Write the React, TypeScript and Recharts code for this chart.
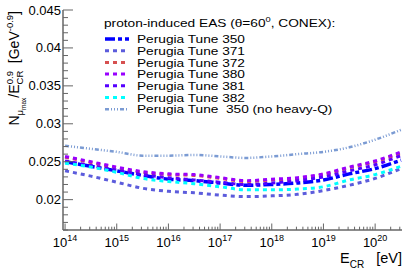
import React from 'react';
import { LineChart, Line, XAxis, YAxis, Legend } from 'recharts';

// log10(E_CR / eV)
const LOG_E = [14, 14.5, 15, 15.5, 16, 16.5, 17, 17.5, 18, 18.5, 19, 19.5, 20, 20.5];

const TUNE_350 = [0.025, 0.0244, 0.0238, 0.0232, 0.0227, 0.0225, 0.0222, 0.0219, 0.022, 0.0222, 0.0226, 0.0234, 0.0241, 0.0252];
const TUNE_371 = [0.0238, 0.0231, 0.0223, 0.0215, 0.0211, 0.0209, 0.0206, 0.0204, 0.0205, 0.0207, 0.0212, 0.0219, 0.0228, 0.0241];
const TUNE_372 = [0.0256, 0.0249, 0.0242, 0.0236, 0.0233, 0.0232, 0.0228, 0.0224, 0.0226, 0.0228, 0.0233, 0.0242, 0.025, 0.0261];
const TUNE_380 = [0.0257, 0.025, 0.0243, 0.0237, 0.0234, 0.0233, 0.0229, 0.0225, 0.0227, 0.0229, 0.0234, 0.0243, 0.0251, 0.0263];
const TUNE_381 = [0.0251, 0.0245, 0.0239, 0.0233, 0.0229, 0.0226, 0.0223, 0.022, 0.0222, 0.0225, 0.023, 0.0238, 0.0246, 0.0258];
const TUNE_382 = [0.0248, 0.0243, 0.0236, 0.0228, 0.0224, 0.0221, 0.0217, 0.0213, 0.0213, 0.0214, 0.0217, 0.0226, 0.0233, 0.0244];
const TUNE_350_NOHQ = [0.0271, 0.0267, 0.0263, 0.0258, 0.0258, 0.0259, 0.0257, 0.0255, 0.0257, 0.026, 0.0263, 0.0269, 0.0279, 0.0292];

const X_MAJOR = [14, 15, 16, 17, 18, 19, 20];
const Y_MAJOR = [0.02, 0.025, 0.03, 0.035, 0.04, 0.045];
const Y_LABELS = ['0.02', '0.025', '0.03', '0.035', '0.04', '0.045'];

const X_DOMAIN = [13.96, 20.52];
const Y_DOMAIN = [0.016, 0.045];

const SERIES = [
  { key: 't350', name: 'Perugia Tune 350', values: TUNE_350, color: '#0000ff', width: 3.5, dash: '10 3 4 3' },
  { key: 't371', name: 'Perugia Tune 371', values: TUNE_371, color: '#5c5cdc', width: 3, dash: '4 4' },
  { key: 't372', name: 'Perugia Tune 372', values: TUNE_372, color: '#d65050', width: 3, dash: '4 4' },
  { key: 't380', name: 'Perugia Tune 380', values: TUNE_380, color: '#9900ff', width: 3, dash: '4 4' },
  { key: 't381', name: 'Perugia Tune 381', values: TUNE_381, color: '#5500ff', width: 3, dash: '4 4' },
  { key: 't382', name: 'Perugia Tune 382', values: TUNE_382, color: '#00ffff', width: 3, dash: '4 4' },
  { key: 't350nohq', name: 'Perugia Tune  350 (no heavy-Q)', values: TUNE_350_NOHQ, color: '#7b9bd3', width: 2.5, dash: '4 2 1 2 1 2 1 2' },
];

const data = LOG_E.map((x, i) => {
  const row: Record<string, number> = { logE: x };
  SERIES.forEach(s => { row[s.key] = s.values[i]; });
  return row;
});

// log minor ticks 2..9 in each decade
const xTicks: number[] = [];
for (let d = 13; d <= 20; d++) {
  for (let k = 1; k <= 9; k++) {
    const v = d + Math.log10(k);
    if (v >= X_DOMAIN[0] && v <= X_DOMAIN[1]) xTicks.push(v);
  }
}
const yTicks: number[] = [];
for (let i = 16; i <= 45; i++) yTicks.push(i / 1000);

const FONT = '"Liberation Sans", Arial, Helvetica, sans-serif';
const AXIS = '#666';
// legend text in the original is a bit wider than tall
const LEG_FS = 11.8;
const LEG_SX = 1.16;

const isMajorX = (v: number) => X_MAJOR.some(m => Math.abs(m - v) < 1e-6);

const XTick = (props: any) => {
  const { x, y, payload } = props;
  const major = isMajorX(payload.value);
  return (
    <g>
      <line x1={x} x2={x} y1={y} y2={y - (major ? 6.5 : 3.3)} stroke={AXIS} strokeWidth={1} />
      {major && (
        <text x={x} y={y + 17} textAnchor="middle" fontFamily={FONT} fontSize={13} fill="#000">
          10<tspan dy={-6} fontSize={9}>{Math.round(payload.value)}</tspan>
        </text>
      )}
    </g>
  );
};

const YTick = (props: any) => {
  const { x, y, payload } = props;
  const idx = Y_MAJOR.findIndex(m => Math.abs(m - payload.value) < 1e-9);
  const major = idx >= 0;
  return (
    <g>
      <line x1={x} x2={x + (major ? 10 : 5)} y1={y} y2={y} stroke={AXIS} strokeWidth={1} />
      {major && (
        <text x={x - 2} y={y + 4.5} textAnchor="end" fontFamily={FONT} fontSize={13} fill="#000">
          {Y_LABELS[idx]}
        </text>
      )}
    </g>
  );
};

const LegendBox = () => (
  <svg width={414} height={130} style={{ display: 'block' }}>
    <g transform={`translate(104,0) scale(${LEG_SX},1)`}>
      <text x={0} y={27.5} fontFamily={FONT} fontSize={LEG_FS} fill="#000">
        proton-induced EAS (θ=60<tspan dy={-5} fontSize={8}>0</tspan><tspan dy={5}>, CONEX):</tspan>
      </text>
    </g>
    {SERIES.map((s, i) => {
      const cy = 39 + i * 11.7;
      return (
        <g key={s.key}>
          <line x1={105} x2={129} y1={cy} y2={cy} stroke={s.color} strokeWidth={s.width} strokeDasharray={s.dash} />
          <g transform={`translate(137,0) scale(${LEG_SX},1)`}>
            <text x={0} y={cy + 4.3} fontFamily={FONT} fontSize={LEG_FS} fill="#000" style={{ whiteSpace: 'pre' }}>
              {s.name}
            </text>
          </g>
        </g>
      );
    })}
  </svg>
);

export default function App() {
  return (
    <div style={{ position: 'relative', width: 414, height: 272, background: '#fff' }}>
      <style>{'body{margin:0}'}</style>
      <LineChart width={414} height={272} data={data} margin={{ top: 10, right: 12, bottom: 0, left: 0 }}>
        <XAxis
          dataKey="logE"
          type="number"
          domain={X_DOMAIN}
          allowDataOverflow
          ticks={xTicks}
          interval={0}
          tick={<XTick />}
          tickLine={false}
          tickSize={0}
          tickMargin={0}
          height={42}
          axisLine={{ stroke: AXIS, strokeWidth: 1.5 }}
        />
        <XAxis
          xAxisId="top"
          orientation="top"
          dataKey="logE"
          type="number"
          domain={X_DOMAIN}
          allowDataOverflow
          tick={false}
          tickLine={false}
          height={0}
          axisLine={{ stroke: AXIS, strokeWidth: 1.5 }}
        />
        <YAxis
          type="number"
          domain={Y_DOMAIN}
          allowDataOverflow
          ticks={yTicks}
          interval={0}
          tick={<YTick />}
          tickLine={false}
          tickSize={0}
          tickMargin={0}
          width={63}
          axisLine={{ stroke: AXIS, strokeWidth: 1.5 }}
        />
        <YAxis
          yAxisId="right"
          orientation="right"
          type="number"
          domain={Y_DOMAIN}
          allowDataOverflow
          tick={false}
          tickLine={false}
          width={0}
          axisLine={{ stroke: AXIS, strokeWidth: 1.5 }}
        />
        {SERIES.map(s => (
          <Line
            key={s.key}
            dataKey={s.key}
            name={s.name}
            type="monotone"
            stroke={s.color}
            strokeWidth={s.width}
            strokeDasharray={s.dash}
            dot={false}
            isAnimationActive={false}
          />
        ))}
        <Legend
          layout="vertical"
          align="center"
          verticalAlign="middle"
          wrapperStyle={{ top: 0, left: 0, width: 414, height: 130 }}
          content={() => <LegendBox />}
        />
        {/* axis titles */}
        <text transform="translate(19,11) rotate(-90)" textAnchor="end" fontFamily={FONT} fontSize={14} fill="#000" style={{ whiteSpace: 'pre' }}>
          N<tspan dy={4} fontSize={9.5}>μ</tspan>
          <tspan dy={2.5} fontSize={6.5}>max</tspan>
          <tspan dy={-6.5}>/E</tspan>
          <tspan dy={4} fontSize={9.5}>CR</tspan>
          <tspan dx={-13.5} dy={-10} fontSize={9.5}>0.9</tspan>
          <tspan dy={6}>  [GeV</tspan>
          <tspan dy={-6} fontSize={9.5}>-0.9</tspan>
          <tspan dy={6}>]</tspan>
        </text>
        <text x={402} y={263} textAnchor="end" fontFamily={FONT} fontSize={14.5} fill="#000" style={{ whiteSpace: 'pre' }}>
          E<tspan dy={5} fontSize={10}>CR</tspan>
          <tspan dy={-5}>   [eV]</tspan>
        </text>
      </LineChart>
    </div>
  );
}
